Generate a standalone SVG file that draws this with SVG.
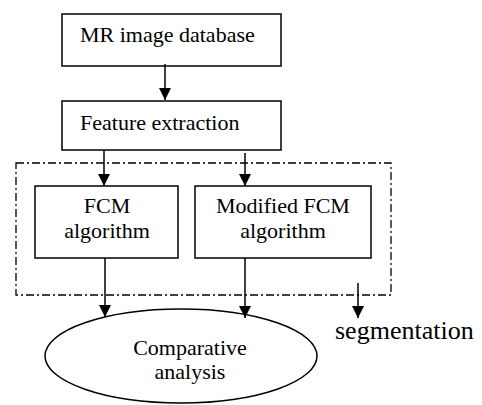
<svg xmlns="http://www.w3.org/2000/svg" width="482" height="405" viewBox="0 0 482 405">
<style>
.box{fill:#fff;stroke:#000;stroke-width:1.5}
.t{font-family:"Liberation Serif",serif;font-size:22px;fill:#000}
.c{text-anchor:middle}
.ln{stroke:#000;stroke-width:1.5;fill:none}
</style>
<defs>
<marker id="ah" markerWidth="12" markerHeight="12" refX="12" refY="6" orient="auto" markerUnits="userSpaceOnUse">
<path d="M0,0 L12,6 L0,12 Z" fill="#000"/>
</marker>
</defs>
<rect width="482" height="405" fill="#fff"/>
<g id="group-segmentation">
<rect x="16" y="163" width="375" height="132" fill="none" stroke="#000" stroke-width="1.3" stroke-dasharray="8,3,2,3"/>
</g>
<g id="n1"><rect class="box" x="62" y="14" width="219" height="52"/><text class="t" x="80" y="42">MR image database</text></g>
<g id="n2"><rect class="box" x="62" y="101" width="219" height="49"/><text class="t" x="80" y="130">Feature extraction</text></g>
<g id="n3"><rect class="box" x="35" y="186" width="143" height="72"/><text class="t c" x="107" y="213">FCM</text><text class="t c" x="107" y="238">algorithm</text></g>
<g id="n4"><rect class="box" x="195" y="186" width="176" height="72"/><text class="t c" x="283" y="213">Modified FCM</text><text class="t c" x="283" y="238">algorithm</text></g>
<g id="n5"><ellipse cx="181" cy="356" rx="136" ry="47" fill="#fff" stroke="#000" stroke-width="1.5"/><text class="t c" x="190" y="355">Comparative</text><text class="t c" x="190" y="379">analysis</text></g>
<text class="t" x="335" y="339" style="font-size:26px">segmentation</text>
<g id="connectors">
<line class="ln" x1="165" y1="64" x2="165" y2="100" marker-end="url(#ah)"/>
<line class="ln" x1="104" y1="150" x2="104" y2="186" marker-end="url(#ah)"/>
<line class="ln" x1="245" y1="153" x2="245" y2="186" marker-end="url(#ah)"/>
<line class="ln" x1="105" y1="258" x2="105" y2="317" marker-end="url(#ah)"/>
<line class="ln" x1="245" y1="258" x2="245" y2="318" marker-end="url(#ah)"/>
<line class="ln" x1="358" y1="283" x2="358" y2="318" marker-end="url(#ah)"/>
</g>
</svg>
